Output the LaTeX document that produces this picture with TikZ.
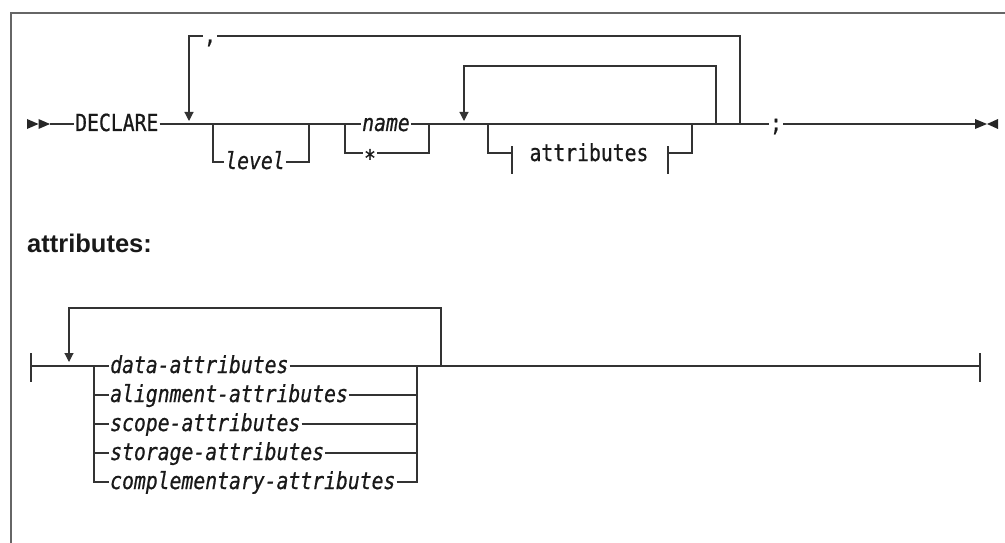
\documentclass[tikz,border=0pt]{standalone}
\usepackage{fontspec}
\usetikzlibrary{arrows.meta}
\newfontfamily\rrfont[FakeStretch=0.84, RawFeature={embolden=0.7}]{DejaVu Sans Mono}
\newfontfamily\headfont{Liberation Sans}
\tikzset{
  rr/.style={line width=1.15pt, draw=black!80},
  rrtxt/.style={inner xsep=1pt, inner ysep=0pt, text=black!90, font=\rrfont\fontsize{23.5}{28}\selectfont},
  rrit/.style={rrtxt, font=\rrfont\itshape\fontsize{23.5}{28}\selectfont},
  loopar/.style={rr, -{Triangle[width=9pt,length=9pt]}},
  tipfill/.style={fill=black!85},
  frameline/.style={line width=1.3pt, draw=black!60},
  headtxt/.style={anchor=base west, inner sep=0pt, text=black!90, font=\headfont\bfseries\fontsize{25.5}{30}\selectfont},
  ml/.style={yshift=7pt},
}
\begin{document}
\begin{tikzpicture}[x=1pt,y=-1pt]
\useasboundingbox (0,0) rectangle (1005,543);
\draw[frameline] (11,543) -- (11,13) -- (1005,13);

% ---------- main diagram ----------
\coordinate (s1) at (38.5,124);
\coordinate (s2) at (50,124);
\fill[tipfill] (27,119) -- (s1) -- (27,129) -- cycle;
\fill[tipfill] (38.5,119) -- (s2) -- (38.5,129) -- cycle;
\node[rrtxt, anchor=base west] (declare) at (74,131) {DECLARE};
\draw[rr] (s2) -- ([ml]declare.base west);

\coordinate (lv0) at (213,124);
\coordinate (lv1) at (309,124);
\coordinate (nm0) at (345,124);
\coordinate (nm1) at (429,124);
\coordinate (at0) at (488,124);
\coordinate (at1) at (692,124);
\coordinate (ir) at (716,124);
\coordinate (or) at (740,124);
\coordinate (e0) at (975,124);
\coordinate (e1) at (987,124);

\draw[rr] ([ml]declare.base east) -- (nm0);

% optional level
\node[rrit, anchor=base] (level) at (255,169) {level};
\draw[rr] (lv0) |- ([ml]level.base west);
\draw[rr] ([ml]level.base east) -| (lv1);

% name or *
\node[rrit, anchor=base] (name) at (386,131) {name};
\node[rrit, anchor=base] (star) at (370,160) {\raisebox{-6.5pt}{*}};
\draw[rr] (nm0) -- ([ml]name.base west);
\draw[rr] ([ml]name.base east) -- (nm1);
\draw[rr] (nm0) |- ([ml]star.base west);
\draw[rr] ([ml]star.base east) -| (nm1);

% main line to ;
\node[rrtxt, anchor=base] (semi) at (776,131) {;};
\draw[rr] (nm1) -- (or) -- ([ml]semi.base west);
\draw[rr] ([ml]semi.base east) -- (e0);
\fill[tipfill] (975,119) -- (e1) -- (975,129) -- cycle;
\fill[tipfill] (998,119) -- (e1) -- (998,129) -- cycle;

% optional attributes fragment
\coordinate (ab0) at (512,153);
\coordinate (ab1) at (668,153);
\draw[rr] (at0) |- (ab0);
\draw[rr] (512,146) -- (512,174);
\node[rrtxt, anchor=base] (attr) at (589,161) {attributes};
\draw[rr] (668,146) -- (668,174);
\draw[rr] (ab1) -| (at1);

% inner repeat loop
\coordinate (iltop) at (464,66);
\coordinate (iltip) at (464,121);
\draw[loopar] (ir) |- (iltop) -- (iltip);

% outer repeat loop with comma
\node[rrtxt, anchor=base] (comma) at (210,43) {,};
\coordinate (ctip) at (189,121);
\draw[rr] (or) |- ([ml]comma.base east);
\draw[loopar] ([ml]comma.base west) -| (ctip);

% ---------- attributes fragment ----------
\node[headtxt] (head) at (27,252) {attributes:};

\coordinate (b0) at (31,366);
\coordinate (sp) at (94,366);
\coordinate (jr) at (417,366);
\coordinate (lr) at (441,366);
\coordinate (b1) at (980,366);
\draw[rr] (31,353) -- (31,382);
\draw[rr] (980,353) -- (980,382);
\draw[rr] (b0) -- (sp);

\node[rrit, anchor=base west] (r1) at (109,373) {data-attributes};
\node[rrit, anchor=base west] (r2) at (109,402) {alignment-attributes};
\node[rrit, anchor=base west] (r3) at (109,431) {scope-attributes};
\node[rrit, anchor=base west] (r4) at (109,460) {storage-attributes};
\node[rrit, anchor=base west] (r5) at (109,489) {complementary-attributes};

\draw[rr] (sp) -- ([ml]r1.base west);
\draw[rr] (sp) |- ([ml]r5.base west);
\draw[rr] (sp |- r2.base west) ++(0,-7) -- ([ml]r2.base west);
\draw[rr] (sp |- r3.base west) ++(0,-7) -- ([ml]r3.base west);
\draw[rr] (sp |- r4.base west) ++(0,-7) -- ([ml]r4.base west);

\draw[rr] ([ml]r1.base east) -- (jr) -- (b1);
\draw[rr] ([ml]r5.base east) -| (jr);
\draw[rr] ([ml]r2.base east) -- (jr |- {0,395});
\draw[rr] ([ml]r3.base east) -- (jr |- {0,424});
\draw[rr] ([ml]r4.base east) -- (jr |- {0,453});

\coordinate (ltop) at (69,308);
\coordinate (ltip) at (69,362);
\draw[loopar] (lr) |- (ltop) -- (ltip);
\end{tikzpicture}
\end{document}
